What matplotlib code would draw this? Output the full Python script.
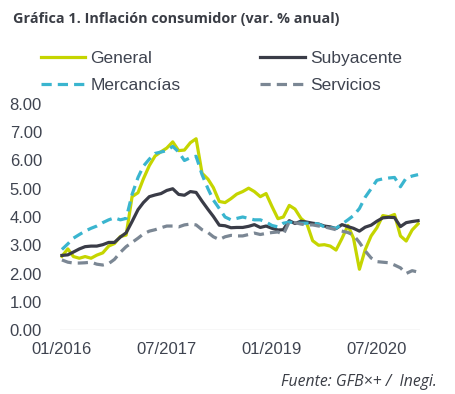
import numpy as np, pandas as pd, matplotlib
matplotlib.use("Agg"); import matplotlib.pyplot as plt

months = pd.date_range("2016-01-01", periods=62, freq="MS")
general = [2.61, 2.87, 2.60, 2.54, 2.60, 2.54, 2.65, 2.73, 2.97, 3.06, 3.31, 3.36,
           4.72, 4.86, 5.35, 5.82, 6.16, 6.31, 6.44, 6.66, 6.35, 6.37, 6.63, 6.77,
           5.55, 5.34, 5.04, 4.55, 4.51, 4.65, 4.81, 4.90, 5.02, 4.90, 4.72, 4.83,
           4.37, 3.94, 4.00, 4.41, 4.28, 3.95, 3.78, 3.16, 3.00, 3.02, 2.97, 2.83,
           3.24, 3.70, 3.25, 2.15, 2.84, 3.33, 3.62, 4.05, 4.01, 4.09, 3.33, 3.15,
           3.54, 3.76]
subyacente = [2.64, 2.66, 2.76, 2.87, 2.95, 2.97, 2.97, 3.02, 3.10, 3.10, 3.29, 3.44,
              3.84, 4.26, 4.51, 4.72, 4.78, 4.83, 4.94, 5.00, 4.80, 4.77, 4.90, 4.87,
              4.56, 4.27, 4.02, 3.71, 3.69, 3.62, 3.63, 3.63, 3.67, 3.73, 3.63, 3.68,
              3.60, 3.54, 3.55, 3.87, 3.77, 3.85, 3.82, 3.78, 3.75, 3.68, 3.65, 3.59,
              3.73, 3.66, 3.60, 3.50, 3.64, 3.71, 3.85, 3.97, 3.99, 3.98, 3.66, 3.80,
              3.84, 3.87]
mercancias = [2.85, 3.05, 3.25, 3.38, 3.50, 3.60, 3.68, 3.80, 3.90, 3.97, 3.90, 3.95,
              4.80, 5.40, 5.80, 6.05, 6.25, 6.30, 6.35, 6.50, 6.30, 6.00, 6.10, 6.15,
              5.50, 5.00, 4.60, 4.30, 4.00, 3.90, 3.95, 4.00, 3.95, 3.90, 3.90, 3.82,
              3.70, 3.65, 3.78, 3.82, 3.80, 3.78, 3.78, 3.78, 3.75, 3.65, 3.62, 3.60,
              3.75, 3.90, 4.05, 4.30, 4.70, 5.00, 5.30, 5.35, 5.38, 5.40, 5.07, 5.38,
              5.45, 5.50]
servicios = [2.48, 2.40, 2.37, 2.37, 2.38, 2.40, 2.33, 2.30, 2.35, 2.50, 2.75, 2.95,
             3.10, 3.25, 3.40, 3.50, 3.55, 3.62, 3.68, 3.68, 3.65, 3.72, 3.75, 3.72,
             3.55, 3.45, 3.30, 3.20, 3.30, 3.35, 3.33, 3.33, 3.38, 3.43, 3.38, 3.42,
             3.45, 3.47, 3.38, 3.83, 3.80, 3.75, 3.72, 3.72, 3.68, 3.65, 3.60, 3.55,
             3.50, 3.45, 3.36, 3.10, 2.80, 2.55, 2.42, 2.40, 2.38, 2.30, 2.20, 2.00,
             2.10, 2.05]
yticks = [0, 1, 2, 3, 4, 5, 6, 7, 8]
xtick_idx = [0, 18, 36, 54]

TXT = "#3f4450"
plt.rcParams.update({"font.family": ["Liberation Sans", "DejaVu Sans"]})
fig = plt.figure(figsize=(4.56, 3.94), dpi=100)
ax = fig.add_axes([60/456, 64/394, 360/456, 226/394])

for ref in (2, 4):
    ax.axhline(ref, color="#cccccc", lw=2.0, ls=(0, (0, 2.9)), dash_capstyle="round", zorder=1)
ax.axhline(0, color="#d9d9d9", lw=1.0, zorder=1)

h1, = ax.plot(months, general, color="#c5d500", lw=2.3, label="General", zorder=3)
h2, = ax.plot(months, subyacente, color="#3a3c47", lw=2.3, label="Subyacente", zorder=3)
h3, = ax.plot(months, mercancias, color="#3ab5cf", lw=2.3, ls=(0, (3.2, 1.9)), label="Mercancías", zorder=3)
h4, = ax.plot(months, servicios, color="#7b8794", lw=2.3, ls=(0, (3.2, 1.9)), label="Servicios", zorder=3)

ax.set_ylim(0, 8)
ax.set_yticks(yticks, [f"{v:.2f}" for v in yticks])
ax.set_xlim(months[0] - pd.Timedelta(days=10), months[-1] + pd.Timedelta(days=10))
ax.set_xticks([months[i] for i in xtick_idx], [months[i].strftime("%m/%Y") for i in xtick_idx])
ax.tick_params(axis="both", length=0, labelsize=12, labelcolor=TXT)
ax.tick_params(axis="y", pad=13)
ax.tick_params(axis="x", pad=9)
for s in ax.spines.values():
    s.set_visible(False)

# column-major fill -> rows: General/Subyacente, Mercancías/Servicios
fig.legend(handles=[h1, h3, h2, h4], loc="upper left", bbox_to_anchor=(41/456, 1 - 51/394), ncol=2,
           frameon=False, fontsize=12.5, labelcolor=TXT, handlelength=2.55, handletextpad=0.3,
           columnspacing=4.6, labelspacing=0.68, borderaxespad=0, borderpad=0)

fig.text(13/456, 1 - 19/394, "Gráfica 1. Inflación consumidor (var. % anual)", fontsize=10.4,
         fontweight="bold", color="#3a3d45", va="center", ha="left", family=["Open Sans", "DejaVu Sans"])
fig.text(437/456, 1 - 382/394, "Fuente: GFB×+ /  Inegi.", fontsize=11.3, style="italic",
         color="#3a3d45", va="center", ha="right", family=["Open Sans", "DejaVu Sans"])

fig.savefig("out.png", dpi=100)
